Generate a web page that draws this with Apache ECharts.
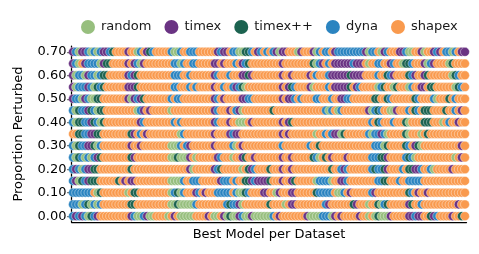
<!DOCTYPE html>
<html><head><meta charset="utf-8">
<script src="https://cdn.jsdelivr.net/npm/echarts@6/dist/echarts.min.js"></script>
<style>html,body{margin:0;padding:0;background:#fff}#c{width:479px;height:254px}</style>
</head><body><div id="c"></div>
<script>
// Models (legend order) and their one-letter codes used in the row strings below
const models = ['random', 'timex', 'timex++', 'dyna', 'shapex'];
const modelCodes = ['R', 'T', 'X', 'D', 'S'];
const modelColors = ['#97bf7e', '#6a3383', '#1c6350', '#2b84c0', '#f99a4e'];

// y categories (tick labels)
const proportions = ['0.00','0.05','0.10','0.15','0.20','0.25','0.30','0.35','0.40','0.45','0.50','0.55','0.60','0.65','0.70'];

// Best model per dataset (128 datasets, left to right) for each proportion perturbed
const best_0_00 = "DTDTDRXDTSSSSSSSSSSTDRRDTRRSSSSR" + "STSRRRRRSSSSTSRRSTRXRRTDRRTRRRRR" + "RDSTSSSSSSSSTRRRRDDDRTSTSSSSSTSS" + "RSRXRRRTSSSSSTTDTTSSXTDSSSSTSSXS";
const best_0_05 = "DDDRDXRDRDSSSSSSSSSXXSSSSSSSSSSS" + "RRXRRRRRDSSSSSSSSSDXDDTRSSSSSSSS" + "XSSSSRSTTSSSSSSSSSDTSSSSSSSXTSSS" + "RSSXRDXSSSSSSTXSSDSSSSSSSSSSSTSS";
const best_0_10 = "DDDDDDDSRXSSSSSSSSRSXXSSSSSSSSSS" + "RDXRDSSSTDSTSSSDDDDDSDRRXDSSSSTT" + "SSRTSSSTTSSSSSSXDDDDDSRRDSTSSSSS" + "SDTSSSSSSSSSSXDSTSSTSSSSSSSSSSSS";
const best_0_15 = "DTRXDTXXXSSSSSSXSTSTTSSSSSSSSSSS" + "RRRRDSSDDDSSSSSSTDDDSDSSXXTDTTTT" + "XSSSTSSTXSSSSSSRDDDDRSSTTDSSSSSS" + "SSSDDXXSSSDSSDDDDDSSSSSSSSSSSSSS";
const best_0_20 = "DTDRDTTXXSSSSSSSSSSXSSSSSSSSSSSS" + "SSSSSSTRSSSSSSTDXSSSSSSRSXTDSSSS" + "XSSSTSSTSSSSSSSSSSSSXSSDTDSSSSSS" + "SDXDDXTSSSSDSXXTTDSSDRSSSSSTSSSS";
const best_0_25 = "DRXDRDRDTXSSSSSSSSSXTSSSSSSSSSSS" + "RRXRRRTSRSSSSSSTDSSSRSSTXSSTSSSS" + "SSSSTSSTSSSSSSXDRSXSTSSSSTSSSSSS" + "SDDDXXTSSSSSDXDRSSSSSSSSSSSSRSTS";
const best_0_30 = "DRXDDTTXRDSSSSSSSSSTSSTSSSSSSSSS" + "RRRDSDTSSSSSSSTSSSSSDRSTSSSSSSSS" + "SSSSDSSSSSSSSDSSXSSSSSSSSSSSSSSS" + "SSDDDRXSSSSSXDSTXRSSSSSSSSSSSSTS";
const best_0_35 = "SSXXDDTTXXSSSSSSSSSXTSDSTSSSSSSS" + "SSSRDSSSSSSSSSTSSSSTDTTSSSSSSSSS" + "SSSSTSTSSSSSSSSRSSDSDTTRXSSSSSSS" + "DRDDTDRSSSSSXRSSSRSXSSSSSSSSSSSS";
const best_0_40 = "DRXXDDTXDRXSSSSSSSSSSSTDSSSSSSSS" + "SDSDSSSSSSSSSSTDSSSTSSRRRSTSSSSS" + "SSSSTSTXSSSSSSSSSSSSSSSSSSSSSSSS" + "SDSXDSSSDSSSXRSSSSXXXSSSRSDSSTSS";
const best_0_45 = "DRXDDTXDRXXSSSSSSSSSSRDTSTSSSSSS" + "RSSSSSSSSSSSSSTDSSSTSDTRSSSSSSSS" + "SXSSSSSSSSSSSSSSSSDRDSRDSSSSSSSS" + "TRDXDSSRRTSSSDSXDSXXXSSSSXSSDSTS";
const best_0_50 = "TDDRTDRRXXSSSSSSSSTRTDTXSSSSSSSS" + "DSDDSSSSSSSSSSTDSTSSSSSTTDDSSSSS" + "SSSSTSTTDSDSSSSDDSSSDSSTTDDSSSSS" + "SSXXSSXDSSSSSSSXDSSSSDRSSSXSDSSS";
const best_0_55 = "TRDDDTDRXDXSSSSSSSTTTXSSSSSSSSSS" + "SDDSSSDSDSSSSSTSSDSSDTDXRSSSSSSS" + "SSSSTSTXDSSSSTRSSSSDSTTTTTXSTDSS" + "SSSRDXSSRXSSSRDSSTTSXXSSSSSSRXDS";
const best_0_60 = "TRDDRTDDRDXXSSSSSSTDTXSSSSSSSSSS" + "SDDDSSDSSSSSSSTDSSSDSSSTTXTSSSSS" + "SSSSTSSTSSSSSTSDSSSDTTTTTTXTTTTS" + "SSSDSSXDTSSSSXDTSSTXSSSSSSSRXDSS";
const best_0_65 = "TDRSTDDDDRTXXSSSSSTSTDRTSSSSSSSS" + "SDDRDSSDDSSSSSTTSTSSSDSTDXSSSSSS" + "SSSSTSSSSSSSSSXRDTSDSTTTTTTDTTTS" + "RSSDDSSTDSSRXXDSSSTRDTSSSSRXSSSS";
const best_0_70 = "TDRTTDRDRDTTDXSSSSTSSRDSTXDSSSSS" + "DRRDSSDDDSSSSSSTDTTSDDRRXXDSTDSD" + "SDTRTTSSSRTSSSTRDSDDSTDDDDDDDDDT" + "RDDSRTDSSSTTDRRSSTRSSTDTSDDRDSTT";

const bestRows = [best_0_00, best_0_05, best_0_10, best_0_15, best_0_20, best_0_25, best_0_30,
  best_0_35, best_0_40, best_0_45, best_0_50, best_0_55, best_0_60, best_0_65, best_0_70];

const nDatasets = best_0_00.length;
const datasets = [];
for (let i = 0; i < nDatasets; i++) datasets.push('ds' + (i + 1));

// One point per (dataset, proportion), drawn left to right so later points overlap earlier ones
const points = [];
bestRows.forEach((row, r) => {
  for (let i = 0; i < row.length; i++) {
    const m = modelCodes.indexOf(row[i]);
    points.push({ value: [i, r], itemStyle: { color: modelColors[m], opacity: 1 } });
  }
});

const chart = echarts.init(document.getElementById('c'), null, { renderer: 'canvas' });
const legendSeries = models.map((name, k) => ({
  name: name, type: 'scatter', data: [], itemStyle: { color: modelColors[k], opacity: 1 }
}));

chart.setOption({
  animation: false,
  backgroundColor: '#fff',
  textStyle: { fontFamily: 'DejaVu Sans' },
  legend: {
    data: models, left: 76, top: 15, icon: 'circle', itemWidth: 14, itemHeight: 14, itemGap: 13,
    itemStyle: { opacity: 1 },
    textStyle: { fontSize: 13, color: '#1a1a1a', fontFamily: 'DejaVu Sans', padding: [0, 0, 0, 1] }
  },
  grid: { left: 71.5, right: 12.5, top: 46, bottom: 32, containLabel: false },
  xAxis: {
    type: 'category', data: datasets, boundaryGap: true,
    axisLine: { lineStyle: { color: '#000', width: 1.25 } },
    axisTick: { show: false }, axisLabel: { show: false }, splitLine: { show: false },
    name: 'Best Model per Dataset', nameLocation: 'middle', nameGap: 6,
    nameTextStyle: { fontSize: 13, color: '#000', fontFamily: 'DejaVu Sans', verticalAlign: 'top' }
  },
  yAxis: {
    type: 'category', data: proportions, boundaryGap: true,
    axisLine: { lineStyle: { color: '#000', width: 1.25 } },
    axisTick: { show: true, length: 4, alignWithLabel: true, lineStyle: { color: '#000', width: 1.25 } },
    axisLabel: { fontSize: 13, color: '#000', margin: 5, fontFamily: 'DejaVu Sans' },
    splitLine: { show: false },
    name: 'Proportion Perturbed', nameLocation: 'middle', nameRotate: 90, nameGap: 46,
    nameTextStyle: { fontSize: 13, color: '#000', fontFamily: 'DejaVu Sans' }
  },
  series: [{
    type: 'scatter', name: '_points', data: points, symbol: 'circle', symbolSize: 9,
    itemStyle: { borderColor: '#fff', borderWidth: 0.4, opacity: 1 },
    emphasis: { disabled: true }, silent: true
  }].concat(legendSeries)
});
</script>
</body></html>
